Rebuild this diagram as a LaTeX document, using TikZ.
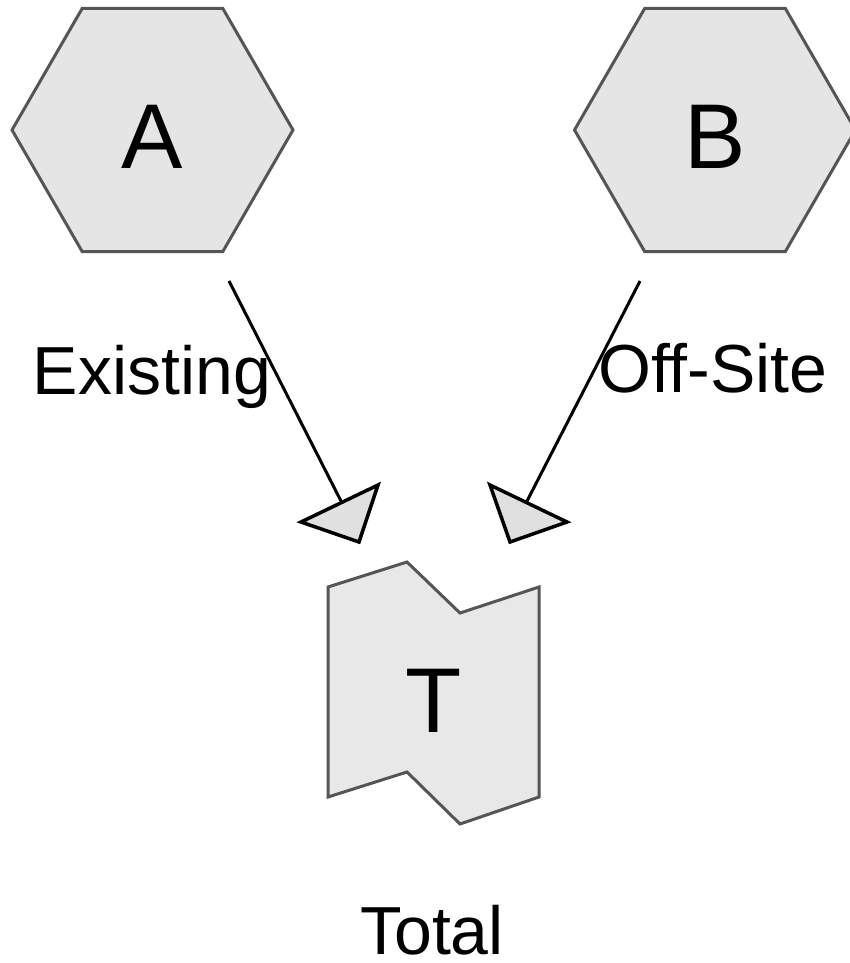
\documentclass[tikz,border=0pt]{standalone}
\usepackage{fontspec}
\setmainfont{Liberation Sans}
\usetikzlibrary{shapes.geometric}
\definecolor{hexfill}{HTML}{E5E5E5}
\definecolor{tfill}{HTML}{E8E8E8}
\definecolor{headfill}{HTML}{E0E0E0}
\definecolor{edgegray}{HTML}{555555}
\tikzset{
  hexnode/.style={regular polygon, regular polygon sides=6,
    minimum size=281pt, inner sep=0pt, draw=edgegray, fill=hexfill, line width=3pt},
  bigletter/.style={font=\fontsize{92}{110}\selectfont, anchor=base, inner sep=0pt, text depth=0pt},
  labeltext/.style={font=\fontsize{68}{82}\selectfont, anchor=base, inner sep=0pt, text depth=0pt},
  link/.style={draw=black, line width=3pt},
  headtri/.style={draw=black, fill=headfill, line width=3.5pt, line join=miter},
  tshape/.style={draw=edgegray, fill=tfill, line width=3pt, line join=miter}
}
\begin{document}
\begin{tikzpicture}[x=1pt,y=-1pt]
\useasboundingbox (0,0) rectangle (849,963);
% hexagons
\node[hexnode] (A) at (152.5,130) {};
\node[hexnode] (B) at (715,130) {};
\node[bigletter] (Aletter) at (152.5,168) {A};
\node[bigletter] (Bletter) at (715,168) {B};
% labels
\node[labeltext] (Existing) at (152,394) {Existing};
\node[labeltext] (OffSite) at (713,392) {Off-Site};
% connectors
\coordinate (a1) at (229,281);
\coordinate (a2) at (342,503);
\coordinate (b1) at (640,281);
\coordinate (b2) at (526,503);
\draw[link] (a1) -- (a2);
\draw[link] (b1) -- (b2);
% arrow heads
\draw[headtri] (301,522) -- (378,485) -- (359,542) -- cycle;
\draw[headtri] (490,485) -- (567,522) -- (510,542) -- cycle;
% T shape
\draw[tshape] (328,587) -- (407,562) -- (460,613) -- (539,587) -- (539,797)
  -- (460,824) -- (407,772) -- (328,797) -- cycle;
\node[bigletter] (Tletter) at (434,732) {T};
\node[labeltext] (Total) at (432,954) {Total};
\end{tikzpicture}
\end{document}
